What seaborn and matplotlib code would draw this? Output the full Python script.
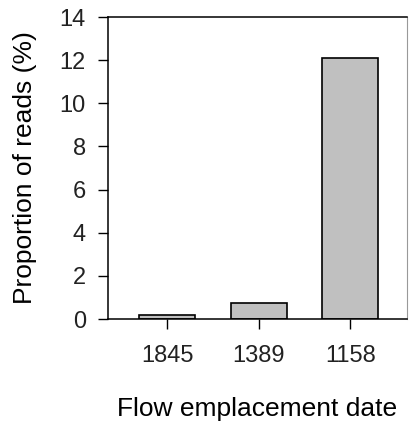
import matplotlib
matplotlib.use("Agg")
import matplotlib.pyplot as plt
import seaborn as sns
import pandas as pd

categories = ["1845", "1389", "1158"]
values = [0.18, 0.76, 12.1]

sns.set_theme(style="ticks")
plt.rcParams['font.family'] = ['Liberation Sans', 'DejaVu Sans']

df = pd.DataFrame({"date": categories, "prop": values})

fig = plt.figure(figsize=(4.09, 4.25), dpi=100)
ax = fig.add_axes([108/409, 1-319/425, (407-108)/409, (319-17)/425])
sns.barplot(data=df, x="date", y="prop", order=categories, color="#c0c0c0",
            edgecolor="black", linewidth=1.2, width=0.61, saturation=1, ax=ax)

ax.set_xlim(-0.645, 2.62)
ax.set_ylim(0, 14)
ax.set_yticks(range(0, 15, 2))
ax.tick_params(axis="both", direction="out", length=7.5, width=1, color="black",
               labelsize=17, labelcolor="#222222")
ax.tick_params(axis="y", pad=8.5)
ax.tick_params(axis="x", pad=11.5)
for s in ["left", "bottom", "top"]:
    ax.spines[s].set_visible(True)
    ax.spines[s].set_color("black")
    ax.spines[s].set_linewidth(1.1)
ax.spines["right"].set_visible(True)
ax.spines["right"].set_color("#999999")
ax.spines["right"].set_linewidth(0.8)

ax.set_xlabel("Flow emplacement date", fontsize=19, color="black", labelpad=21)
ax.set_ylabel("Proportion of reads (%)", fontsize=19, color="black", labelpad=16)

fig.savefig("out.png", dpi=100)
